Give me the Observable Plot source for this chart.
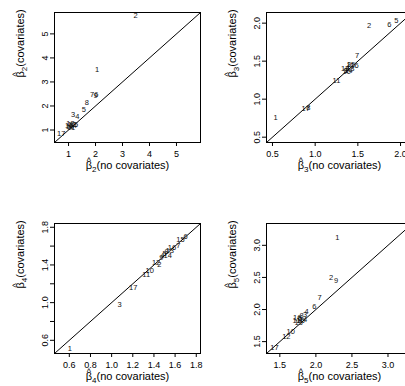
<!DOCTYPE html>
<html><head><meta charset="utf-8">
<script src="https://cdn.jsdelivr.net/npm/d3@7"></script>
<script src="https://cdn.jsdelivr.net/npm/@observablehq/plot@0.6"></script>
<style>
html,body{margin:0;padding:0;background:#fff;overflow:hidden;}
#wrap{position:relative;width:405px;height:386px;overflow:hidden;background:#fff;}
.panel{position:absolute;width:202px;height:193px;}
.panel svg{max-width:none !important;}
</style></head><body><div id="wrap"></div>
<script>
// study labels (same for every panel)
const ids = ["1","2","3","4","5","6","7","8","9","10","11","12","13","14","15","16","17"];

// beta2
const b2NoCov = [2.06, 3.48, 1.17, 1.33, 1.57, 2.03, 1.87, 1.68, 2.00, 1.05, 1.10, 1.13, 1.07, 1.16, 1.20, 1.02, 0.73];
const b2Cov   = [3.51, 5.77, 1.65, 1.56, 1.86, 2.46, 2.46, 2.12, 2.44, 1.15, 1.10, 1.22, 1.25, 1.18, 1.24, 1.20, 0.85];
// beta3
const b3NoCov = [0.535, 1.63, 1.36, 1.38, 1.95, 1.87, 1.49, 0.92, 1.40, 1.37, 1.25, 1.35, 1.41, 1.39, 1.42, 1.46, 0.89];
const b3Cov   = [0.76, 1.97, 1.38, 1.42, 2.03, 1.98, 1.575, 0.89, 1.45, 1.36, 1.245, 1.40, 1.40, 1.37, 1.46, 1.44, 0.87];
// beta4
const b4NoCov = [0.605, 1.45, 1.074, 1.48, 1.50, 1.70, 1.63, 1.52, 1.47, 1.36, 1.327, 1.42, 1.55, 1.53, 1.65, 1.57, 1.204];
const b4Cov   = [0.51, 1.40, 0.98, 1.50, 1.52, 1.70, 1.61, 1.54, 1.48, 1.34, 1.295, 1.42, 1.55, 1.50, 1.67, 1.58, 1.164];
// beta5
const b5NoCov = [2.296, 2.21, 1.85, 1.87, 1.78, 1.98, 2.05, 1.80, 2.28, 1.65, 1.73, 1.59, 1.76, 1.82, 1.79, 1.74, 1.425];
const b5Cov   = [3.117, 2.49, 1.92, 1.97, 1.86, 2.05, 2.19, 1.90, 2.45, 1.66, 1.82, 1.58, 1.80, 1.85, 1.83, 1.87, 1.41];

// axis ranges (shared by x and y in each panel)
const b2Domain = [0.48, 5.89];
const b3Domain = [0.43, 2.14];
const b4Domain = [0.46, 1.84];
const b5Domain = [1.315, 3.34];

// ticks and tick labels
const b2Ticks = [1, 2, 3, 4, 5];
const b2TickLabels = ["1", "2", "3", "4", "5"];
const b3Ticks = [0.5, 1.0, 1.5, 2.0];
const b3TickLabels = ["0.5", "1.0", "1.5", "2.0"];
const b4Ticks = [0.6, 0.8, 1.0, 1.2, 1.4, 1.6, 1.8];
const b4XTickLabels = ["0.6", "0.8", "1.0", "1.2", "1.4", "1.6", "1.8"];
const b4YTickLabels = ["0.6", "", "1.0", "", "1.4", "", "1.8"];
const b5Ticks = [1.5, 2.0, 2.5, 3.0];
const b5TickLabels = ["1.5", "2.0", "2.5", "3.0"];

const subs = ["2", "3", "4", "5"];
const xTitle = "(no covariates)";
const yTitle = "(covariates)";

function panel(cfg) {
  const rows = ids.map((id, i) => ({id, x: cfg.noCov[i], y: cfg.cov[i]}));
  const xmap = new Map(cfg.ticks.map((t, i) => [t, cfg.xLabels[i]]));
  const ymap = new Map(cfg.ticks.map((t, i) => [t, cfg.yLabels[i]]));
  const svg = Plot.plot({
    width: 202, height: 193,
    marginLeft: 54, marginRight: 2, marginTop: 12, marginBottom: 51,
    style: {fontFamily: "'Liberation Sans', Arial, sans-serif", background: "white", color: "black", overflow: "visible", maxWidth: "none"},
    x: {domain: cfg.domain, axis: null},
    y: {domain: cfg.domain, axis: null},
    marks: [
      Plot.link([cfg.domain], {x1: d => d[0], y1: d => d[0], x2: d => d[1], y2: d => d[1], stroke: "black", strokeWidth: 1}),
      Plot.text(rows, {x: "x", y: "y", text: "id", fontSize: 7.5, fill: "#111"}),
      Plot.frame({stroke: "black", strokeWidth: 1}),
      Plot.axisX(cfg.ticks, {anchor: "bottom", tickSize: 4, tickPadding: 4.5, fontSize: 9, tickFormat: d => xmap.get(d), label: null}),
      Plot.axisY(cfg.ticks, {anchor: "left", tickSize: 4, tickPadding: 3, tickRotate: -90, fontSize: 9, tickFormat: d => ymap.get(d), label: null}),
      Plot.text([xTitle], {frameAnchor: "bottom", dy: 26, text: d => d, fontSize: 11}),
      Plot.text([yTitle], {frameAnchor: "left", dx: -34, rotate: -90, text: d => d, fontSize: 11})
    ]
  });
  // typeset hat(beta)[k] in front of the titles
  d3.select(svg).selectAll("text").each(function() {
    const t = d3.select(this);
    const rest = t.text();
    if (rest !== xTitle && rest !== yTitle) return;
    t.text(null);
    t.append("tspan").text("\u03B2");
    t.append("tspan").attr("font-size", 9).attr("dx", -5.3).attr("dy", -4.8).text("^");
    t.append("tspan").attr("font-size", 8).attr("dx", 1.1).attr("dy", 7.8).text(cfg.sub);
    t.append("tspan").attr("dy", -3).text(rest);
  });
  const div = document.createElement("div");
  div.className = "panel";
  div.style.left = cfg.left + "px";
  div.style.top = cfg.top + "px";
  div.appendChild(svg);
  document.getElementById("wrap").appendChild(div);
}

panel({noCov: b2NoCov, cov: b2Cov, domain: b2Domain, ticks: b2Ticks, xLabels: b2TickLabels, yLabels: b2TickLabels, sub: subs[0], left: 0, top: 0});
panel({noCov: b3NoCov, cov: b3Cov, domain: b3Domain, ticks: b3Ticks, xLabels: b3TickLabels, yLabels: b3TickLabels, sub: subs[1], left: 212, top: 0});
panel({noCov: b4NoCov, cov: b4Cov, domain: b4Domain, ticks: b4Ticks, xLabels: b4XTickLabels, yLabels: b4YTickLabels, sub: subs[2], left: 0, top: 211});
panel({noCov: b5NoCov, cov: b5Cov, domain: b5Domain, ticks: b5Ticks, xLabels: b5TickLabels, yLabels: b5TickLabels, sub: subs[3], left: 212, top: 211});
</script></body></html>
